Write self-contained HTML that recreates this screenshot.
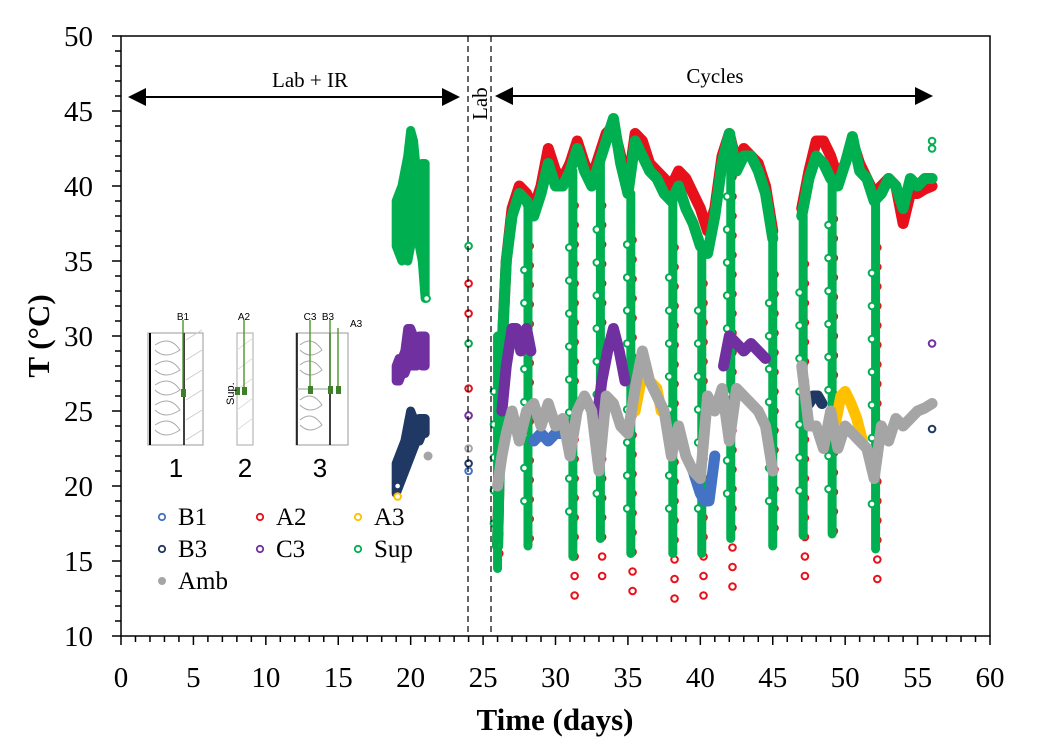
<!DOCTYPE html>
<html><head><meta charset="utf-8"><style>
body{margin:0;background:#fff}
svg text{font-family:"Liberation Serif",serif}
svg text.sans{font-family:"Liberation Sans",sans-serif}
</style></head><body>
<svg id="chart" width="1043" height="750" viewBox="0 0 1043 750" xmlns="http://www.w3.org/2000/svg">
<g id="marks"></g>
<g id="axes"></g>
<g>
  <g stroke="#999" fill="none">
    <rect x="148" y="333" width="55" height="112" fill="#fff"/>
    <line x1="150" y1="333" x2="150" y2="445" stroke="#000" stroke-width="2"/>
    <line x1="184" y1="333" x2="184" y2="445" stroke="#000" stroke-width="1.5"/>
    <path d="M186 340 L202 330 M186 360 L202 350 M186 380 L202 370 M186 400 L202 390 M186 420 L202 410 M186 440 L202 430" stroke="#ccc"/>
    <path d="M155 345 q15 -10 25 5 q-15 10 -25 0 M155 365 q15 -10 25 5 q-15 10 -25 0 M155 385 q15 -10 25 5 q-15 10 -25 0 M155 405 q15 -10 25 5 q-15 10 -25 0 M155 425 q15 -10 25 5 q-15 10 -25 0" stroke="#aaa"/>
    <line x1="183" y1="320" x2="183" y2="392" stroke="#5a9a3a" stroke-width="1.5"/>
    <rect x="181" y="389" width="5" height="8" fill="#3f7f2a" stroke="none"/>
  </g>
  <g stroke="#aaa" fill="none">
    <rect x="237" y="333" width="16" height="112" fill="#fff"/>
    <path d="M237 350 L253 338 M237 370 L253 358 M237 390 L253 378 M237 410 L253 398 M237 430 L253 418" stroke="#ddd"/>
    <line x1="244" y1="320" x2="244" y2="390" stroke="#5a9a3a" stroke-width="1.5"/>
    <rect x="235" y="387" width="5" height="8" fill="#3f7f2a" stroke="none"/>
    <rect x="242" y="387" width="5" height="8" fill="#3f7f2a" stroke="none"/>
  </g>
  <g stroke="#999" fill="none">
    <rect x="296" y="333" width="52" height="112" fill="#fff"/>
    <line x1="297" y1="333" x2="297" y2="445" stroke="#000" stroke-width="1.5"/>
    <line x1="330" y1="333" x2="330" y2="445" stroke="#000" stroke-width="1.5"/>
    <line x1="297" y1="389" x2="330" y2="389"/>
    <path d="M300 345 q12 -10 22 5 q-12 10 -22 0 M300 365 q12 -10 22 5 q-12 10 -22 0 M300 400 q12 -10 22 5 q-12 10 -22 0 M300 420 q12 -10 22 5 q-12 10 -22 0" stroke="#aaa"/>
    <line x1="310" y1="320" x2="310" y2="390" stroke="#5a9a3a" stroke-width="1.5"/>
    <line x1="330" y1="320" x2="330" y2="390" stroke="#5a9a3a" stroke-width="1.5"/>
    <line x1="338" y1="328" x2="338" y2="390" stroke="#5a9a3a" stroke-width="1.5"/>
    <rect x="308" y="386" width="5" height="8" fill="#3f7f2a" stroke="none"/>
    <rect x="328" y="386" width="5" height="8" fill="#3f7f2a" stroke="none"/>
    <rect x="336" y="386" width="5" height="8" fill="#3f7f2a" stroke="none"/>
  </g>
  <text class="sans" x="183" y="320" font-size="10" text-anchor="middle">B1</text>
  <text class="sans" x="244" y="320" font-size="10" text-anchor="middle">A2</text>
  <text class="sans" x="310" y="320" font-size="10" text-anchor="middle">C3</text>
  <text class="sans" x="328" y="320" font-size="10" text-anchor="middle">B3</text>
  <text class="sans" x="350" y="327" font-size="10">A3</text>
  <text class="sans" x="0" y="0" font-size="11" transform="translate(234,405) rotate(-90)">Sup.</text>
  <text class="sans" x="176" y="477" font-size="26" text-anchor="middle">1</text>
  <text class="sans" x="245" y="477" font-size="26" text-anchor="middle">2</text>
  <text class="sans" x="320" y="477" font-size="26" text-anchor="middle">3</text>
</g>
<g id="legend" font-size="25"></g>
<g>
  <line x1="468" y1="36" x2="468" y2="636" stroke="#000" stroke-dasharray="6,4" stroke-width="1.2"/>
  <line x1="491" y1="36" x2="491" y2="636" stroke="#000" stroke-dasharray="6,4" stroke-width="1.2"/>
  <g>
    <line x1="140" y1="97" x2="445" y2="97" stroke="#000" stroke-width="2"/>
    <polygon points="128,97 146,88 146,106" fill="#000"/>
    <polygon points="460,97 442,88 442,106" fill="#000"/>
  </g>
  <text x="310" y="87" font-size="21" text-anchor="middle">Lab + IR</text>
  <text x="0" y="0" font-size="21" transform="translate(487,120) rotate(-90)">Lab</text>
  <g>
    <line x1="508" y1="96" x2="920" y2="96" stroke="#000" stroke-width="2"/>
    <polygon points="495,96 513,87 513,105" fill="#000"/>
    <polygon points="933,96 915,87 915,105" fill="#000"/>
  </g>
  <text x="715" y="83" font-size="21" text-anchor="middle">Cycles</text>
</g>
</svg>
<script>
// ---- data ----
const xTicks = [0,5,10,15,20,25,30,35,40,45,50,55,60];
const yTicks = [10,15,20,25,30,35,40,45,50];
const cycDays = [26,26.3,26.6,27,27.5,28,28.5,29,29.5,30,30.5,31,31.5,32,32.5,33,33.5,34,34.5,35,35.5,36,36.5,37,37.5,38,38.5,39,39.5,40,40.5,41,41.5,42,42.5,43,43.5,44,44.5,45];
const supA = [16,29,35,38,39.5,39,38,39.5,41.5,40,40,41,42.5,41,40,41.5,43,44.5,41.5,39.5,43,42,41,40.5,39.5,39,40,38.5,37.5,36,35.5,38,41.5,43.5,41,42,42,41,39.5,36.5];
const a2A  = [16,29,35,38.5,40,39.5,38.5,40,42.5,41,40.5,41.5,43,41.5,40.5,42,43.5,44,42,40,43.5,43,41.5,41,40.5,40,41,40.5,39.5,38.5,37,38.5,42,43.5,41.5,42.5,42,41.5,40,37];
const cycDays2 = [47,47.5,48,48.5,49,49.5,50,50.5,51,51.5,52,52.5,53,53.5,54,54.5,55,55.5,56];
const supB = [38,40.5,42,41.5,40.5,40,41.5,43.3,41,40.5,39,39.5,40.5,40,38.5,40.5,40,40.5,40.5];
const a2B  = [38.5,41,43,43,42,40.5,41.5,43,41.5,40.5,39.5,40,40.5,40,37.5,39.5,39.5,39.8,40];
const ambA = [20,22,23.5,25,23,25,25.5,24,25.5,24,24.5,22,25,26,25,21,26,25.5,24,23.5,26.5,29,27,26,25,22,24,22,21,20.5,26,25,26.5,23,26.5,26,25.5,25,24,21];
const ambB = [28,24,24,22.5,25,22.5,24,23.5,23,22.5,20.5,24,23,24.5,24,24.5,25,25.2,25.5];
const c3Days = [26.3,26.6,27,27.3,27.6,28,28.3,   32.8,33.2,33.6,34,34.4,34.8,   41.6,42,42.5,43,43.5,44,44.5];
const c3Vals = [25,28,30.5,30.5,29,30.5,29,       24,27,29,30.5,29,27,          28,30,29.5,29,29.5,29,28.5];
const a3Days = [35.5,36,36.5,37,37.3,  49.3,49.7,50,50.4,50.8,51.2];
const a3Vals = [25,27.5,27,26.5,25,    24,26,26.3,25.5,24.5,23];
const b1Days = [28.5,29,29.5,30,30.5,   39.5,40,40.3,40.6,41];
const b1Vals = [23,23.5,23,23.5,23.5,   21,19.5,19,19,22];
const b3Days = [47.5,47.8,48.1,48.4];
const b3Vals = [25.5,26,26,25.5];
const dropDays = [26.0,28.1,31.2,33.1,35.2,38.1,40.1,42.1,45.0,47.1,49.1,52.1];
const dropTop = [30,39,41,41.5,39.5,39,36,43.5,36.5,38,40.5,39];
const dropSupMin = [14.5,16,15.3,16.5,15.5,15.5,15.5,16.5,16,16.7,16.8,15.8];
const dropA2Min = [15.5,16.5,12.7,14,13,12.5,12.7,13.3,17.2,14,17,13.8];
const labDays = [19,19.2,19.4,19.6,19.8,20,20.2,20.4,20.6,20.8,21];
const labSupHi = [39,39.5,40,41,42,43.7,43,41,41,41.5,41.5];
const labSupLo = [36,35.5,35,35.5,35,36,36.5,36.5,36,35,32.5];
const labC3Hi = [28,28.5,28.5,29,30.5,30.5,30,29.5,30,30,30];
const labC3Lo = [27,27,27.5,27.5,28,28,28,28,28.5,28,28];
const labB3Hi = [21.5,22,22.5,23,24,25,24.5,24,24.5,24.5,24.5];
const labB3Lo = [19.5,20,20.5,21,21.5,22,22.5,23,23,23.5,23.5];
const sparseDays = [24,24,24,24,24,24,24,24,24,56,56,56,56,21.1,19.1,19.1];
const sparseVals = [36,33.5,31.5,29.5,26.5,24.7,22.5,21.5,21,29.5,23.8,42.5,43,32.5,19.3,20];
const sparseSer = ['Sup','A2','A2','Sup','A2','C3','Amb','B3','B1','C3','B3','Sup','Sup','Sup','A3','B3'];

const colors = {B1:'#4472c4',A2:'#e8101a',A3:'#ffc000',B3:'#1f3864',C3:'#7030a0',Sup:'#00b050',Amb:'#a5a5a5'};
const legendNames = ['B1','A2','A3','B3','C3','Sup','Amb'];

// ---- scales ----
const X0=121, X1=990, Y0=636, Y1=36;
const xs = d => X0 + d*(X1-X0)/60;
const ys = t => Y0 - (t-10)*(Y0-Y1)/40;
const NS='http://www.w3.org/2000/svg';
function mk(tag, attrs, parent){const e=document.createElementNS(NS,tag);for(const k in attrs)e.setAttribute(k,attrs[k]);parent.appendChild(e);return e;}
const marks=document.getElementById('marks'), axes=document.getElementById('axes'), legend=document.getElementById('legend');

function band(days, hi, lo, col, name){
  const p=mk('polygon',{points:days.map((d,i)=>xs(d)+','+ys(hi[i])).concat(days.map((d,i)=>xs(d)+','+ys(lo[i])).reverse()).join(' '),fill:col,stroke:col,'stroke-width':9,'stroke-linejoin':'round'},marks);
  
  
}
function line(days, vals, col, name, w){
  const p=mk('polyline',{points:days.map((d,i)=>xs(d)+','+ys(vals[i])).join(' '),fill:'none',stroke:col,'stroke-width':w||11,'stroke-linejoin':'round','stroke-linecap':'round'},marks);
  
  
}
function segs(days, vals, col, name){
  let cd=[],cv=[];
  for(let i=0;i<days.length;i++){
    if(i>0 && days[i]-days[i-1]>1){line(cd,cv,col,name);cd=[];cv=[];}
    cd.push(days[i]);cv.push(vals[i]);
  }
  line(cd,cv,col,name);
}
function circ(d,t,col,name){
  const c=mk('circle',{cx:xs(d),cy:ys(t),r:3.3,fill:'#fff',stroke:col,'stroke-width':2},marks);
  
  
}

// lab cluster
band(labDays,labB3Hi,labB3Lo,colors.B3,'b3-lab');
band(labDays,labC3Hi,labC3Lo,colors.C3,'c3-lab');
band(labDays,labSupHi,labSupLo,colors.Sup,'sup-lab');

// drops: red circles
dropDays.forEach((d,i)=>{
  for(let t=dropA2Min[i]; t<dropTop[i]-2; t+=1.3){
    circ(d+0.12,t,colors.A2,'a2-drop-point');
  }
});
segs(cycDays,a2A,colors.A2,'a2-series');
segs(cycDays2,a2B,colors.A2,'a2-series');
dropDays.forEach((d,i)=>{
  const l=mk('line',{x1:xs(d),x2:xs(d),y1:ys(dropTop[i]),y2:ys(dropSupMin[i]),stroke:colors.Sup,'stroke-width':9,'stroke-linecap':'round'},marks);
  
  
  for(let t=dropSupMin[i]+3; t<dropTop[i]-3; t+=2.2){
    circ(d-0.25,t,colors.Sup,'sup-drop-point');
  }
});
segs(cycDays,supA,colors.Sup,'sup-series');
segs(cycDays2,supB,colors.Sup,'sup-series');
segs(c3Days,c3Vals,colors.C3,'c3-series');
segs(b1Days,b1Vals,colors.B1,'b1-series');
segs(a3Days,a3Vals,colors.A3,'a3-series');
segs(b3Days,b3Vals,colors.B3,'b3-series');
segs(cycDays,ambA,colors.Amb,'amb-series');
segs(cycDays2,ambB,colors.Amb,'amb-series');
sparseDays.forEach((d,i)=>circ(d,sparseVals[i],colors[sparseSer[i]],'sparse-point'));
const ag=mk('circle',{cx:xs(21.2),cy:ys(22),r:4.5,fill:colors.Amb},marks);



// axes
const frame=mk('rect',{x:X0,y:Y1,width:X1-X0,height:Y0-Y1,fill:'none',stroke:'#000','stroke-width':1.5},axes);


for(let t=10;t<=50;t++){const maj=t%5===0;mk('line',{x1:X0-(maj?9:6),x2:X0,y1:ys(t),y2:ys(t),stroke:'#000','stroke-width':1.5},axes);}
for(let d=0;d<=60;d++){const maj=d%5===0;mk('line',{x1:xs(d),x2:xs(d),y1:Y0,y2:Y0+(maj?9:6),stroke:'#000','stroke-width':1.5},axes);}
yTicks.forEach(t=>{const e=mk('text',{x:93,y:ys(t)+10,'font-size':29,'text-anchor':'end'},axes);e.textContent=t;
  
  });
xTicks.forEach(d=>{const e=mk('text',{x:xs(d),y:687,'font-size':29,'text-anchor':'middle'},axes);e.textContent=d;
  
  });
const yt=mk('text',{x:0,y:0,'font-size':31,'font-weight':'bold','text-anchor':'middle',transform:'translate(49,336) rotate(-90)'},axes);yt.textContent='T (°C)';


const xt=mk('text',{x:555,y:730,'font-size':31,'font-weight':'bold','text-anchor':'middle'},axes);xt.textContent='Time (days)';



// legend
legendNames.forEach((n,i)=>{
  const cx=162+(i%3)*98, cy=525+Math.floor(i/3)*32;
  const g=mk('g',{},legend);
  
  
  if(n==='Amb') mk('circle',{cx:cx,cy:cy-8,r:4,fill:colors[n]},g);
  else mk('circle',{cx:cx,cy:cy-8,r:3.2,fill:'#fff',stroke:colors[n],'stroke-width':1.8},g);
  const t=mk('text',{x:cx+16,y:cy},g);t.textContent=n;
});
</script>
</body></html>
